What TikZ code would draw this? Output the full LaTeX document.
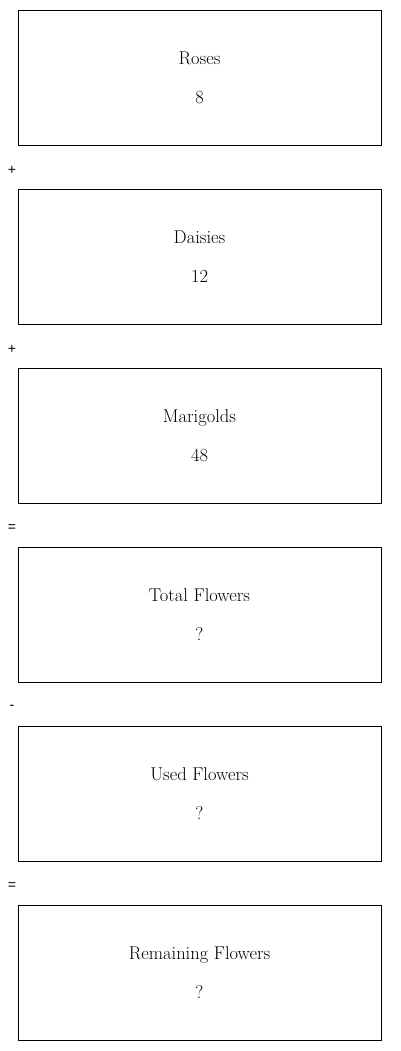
\documentclass[tikz,border=0pt]{standalone}
\usepackage{fontspec}
\newfontfamily\opfont{Liberation Sans}
\usetikzlibrary{positioning}
\tikzset{
qtybox/.style={draw,line width=0.8pt,minimum width=363pt,minimum height=135pt,align=center,font=\fontsize{18.5}{39}\selectfont},
opsign/.style={font=\opfont\fontsize{14}{16}\selectfont}
}

\begin{document}
\begin{tikzpicture}[x=1pt,y=-1pt]
\useasboundingbox (0,0) rectangle (400,1051);
\node[qtybox](roses) at (199.5,77.5){Roses\\8};
\node[qtybox](daisies) at (199.5,256.5){Daisies\\12};
\node[qtybox](marigolds) at (199.5,435.5){Marigolds\\48};
\node[qtybox](total) at (199.5,614.5){Total Flowers\\?};
\node[qtybox](used) at (199.5,793.5){Used Flowers\\?};
\node[qtybox](remain) at (199.5,972.5){Remaining Flowers\\?};
\node[opsign](plusa) at (12,170.5){+};
\node[opsign](plusb) at (12,349.5){+};
\node[opsign](eqa) at (12,528.5){=};
\node[opsign](minus) at (12,707.5){-};
\node[opsign](eqb) at (12,886.5){=};
\end{tikzpicture}
\end{document}
